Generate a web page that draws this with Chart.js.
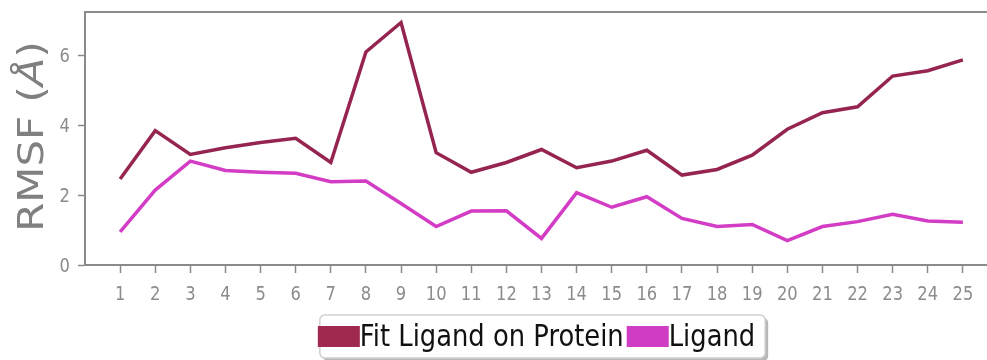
<!DOCTYPE html>
<html>
<head>
<meta charset="utf-8">
<script src="https://cdn.jsdelivr.net/npm/chart.js@4"></script>
<style>
  html, body { margin: 0; padding: 0; background: #ffffff; overflow: hidden; }
  #wrap { width: 1000px; height: 360px; }
</style>
</head>
<body>
<div id="wrap"><canvas id="c" width="1000" height="360"></canvas></div>
<script>
// Residue index along the ligand
const residues = [1,2,3,4,5,6,7,8,9,10,11,12,13,14,15,16,17,18,19,20,21,22,23,24,25];
// RMSF values (Å)
const fitLigandOnProtein = [2.46,3.84,3.16,3.35,3.50,3.62,2.93,6.09,6.93,3.21,2.65,2.93,3.30,2.78,2.97,3.28,2.57,2.73,3.14,3.88,4.35,4.52,5.40,5.55,5.86];
const ligand = [0.95,2.14,2.97,2.70,2.65,2.62,2.38,2.40,1.76,1.10,1.54,1.55,0.76,2.07,1.65,1.95,1.33,1.10,1.16,0.70,1.10,1.24,1.45,1.26,1.22];
// Axis tick labels
const xTicks = [1,2,3,4,5,6,7,8,9,10,11,12,13,14,15,16,17,18,19,20,21,22,23,24,25];
const yTicks = [0,2,4,6];
const seriesNames = ['Fit Ligand on Protein', 'Ligand'];
const seriesColors = ['#962451', '#d33cc5'];
const swatchColors = ['#a0294f', '#d13cc4'];

const AXIS = '#8a8a8a';
const TICK_TEXT = '#8c8c8c';
const SQUEEZE = 0.86;   // narrow text width used throughout the figure

// Tick labels, axis title, top spine and framed legend
const decorations = {
  id: 'decorations',
  afterDraw(chart) {
    const ctx = chart.ctx;
    const area = chart.chartArea;
    const xs = chart.scales.x, ys = chart.scales.y;

    // top spine
    ctx.save();
    ctx.strokeStyle = AXIS;
    ctx.lineWidth = 2;
    ctx.beginPath();
    ctx.moveTo(area.left - 1, area.top);
    ctx.lineTo(area.right, area.top);
    ctx.stroke();
    ctx.restore();

    // tick labels
    ctx.save();
    ctx.fillStyle = TICK_TEXT;
    ctx.font = '19px "DejaVu Sans"';
    ctx.textBaseline = 'alphabetic';
    ctx.textAlign = 'center';
    xs.ticks.forEach(t => {
      const px = xs.getPixelForValue(t.value);
      ctx.save();
      ctx.translate(px, area.bottom + 35);
      ctx.scale(SQUEEZE, 1);
      ctx.fillText(String(t.value), 0, 0);
      ctx.restore();
    });
    ctx.textAlign = 'right';
    yTicks.forEach(v => {
      const py = ys.getPixelForValue(v);
      ctx.save();
      ctx.translate(area.left - 15, py + 6.5);
      ctx.scale(SQUEEZE, 1);
      ctx.fillText(String(v), 0, 0);
      ctx.restore();
    });
    ctx.restore();

    // y-axis title: RMSF (Å) with the Ångström sign in oblique
    ctx.save();
    ctx.fillStyle = '#808080';
    const cy = (area.top + area.bottom) / 2 - 2;
    ctx.translate(43, cy);
    ctx.scale(1, 1 / SQUEEZE);
    ctx.rotate(-Math.PI / 2);
    ctx.textBaseline = 'alphabetic';
    ctx.textAlign = 'left';
    const parts = [
      ['RMSF (', '36px "DejaVu Sans"'],
      ['Å', 'oblique 36px "DejaVu Sans"'],
      [')', '36px "DejaVu Sans"']
    ];
    let total = 0;
    parts.forEach(p => { ctx.font = p[1]; total += ctx.measureText(p[0]).width; });
    let x = -total / 2;
    parts.forEach(p => { ctx.font = p[1]; ctx.fillText(p[0], x, 0); x += ctx.measureText(p[0]).width; });
    ctx.restore();

    // legend
    ctx.save();
    ctx.font = '30px "DejaVu Sans"';
    const sw = 42, sh = 21, gap = 3;
    const widths = chart.data.datasets.map(d => ctx.measureText(d.label).width * SQUEEZE);
    let full = 0;
    widths.forEach((w, i) => { full += sw + w + (i < widths.length - 1 ? gap : 0); });
    const start = (area.left + area.right) / 2 - full / 2 - 5;
    const fx = start + 2, fy = 315, fw = full + 8, fh = 43;
    // shadow
    ctx.fillStyle = 'rgba(0,0,0,0.28)';
    ctx.beginPath();
    ctx.roundRect(fx + 3, fy + 3, fw, fh, 5);
    ctx.fill();
    // frame
    ctx.fillStyle = '#ffffff';
    ctx.strokeStyle = '#cfcfcf';
    ctx.lineWidth = 1.5;
    ctx.beginPath();
    ctx.roundRect(fx, fy, fw, fh, 5);
    ctx.fill();
    ctx.stroke();
    // entries
    let lx = start;
    chart.data.datasets.forEach((d, i) => {
      ctx.fillStyle = swatchColors[i];
      ctx.fillRect(lx, 326, sw, sh);
      lx += sw;
      ctx.save();
      ctx.fillStyle = '#111111';
      ctx.translate(lx, 346);
      ctx.scale(SQUEEZE, 1);
      ctx.textAlign = 'left';
      ctx.textBaseline = 'alphabetic';
      ctx.fillText(d.label, 0, 0);
      ctx.restore();
      lx += widths[i] + gap;
    });
    ctx.restore();
  }
};

new Chart(document.getElementById('c'), {
  type: 'line',
  data: {
    datasets: [
      {
        label: seriesNames[0],
        data: residues.map((r, i) => ({ x: r, y: fitLigandOnProtein[i] })),
        borderColor: seriesColors[0],
        borderWidth: 3.5,
        pointRadius: 0,
        tension: 0,
        fill: false
      },
      {
        label: seriesNames[1],
        data: residues.map((r, i) => ({ x: r, y: ligand[i] })),
        borderColor: seriesColors[1],
        borderWidth: 3.5,
        pointRadius: 0,
        tension: 0,
        fill: false
      }
    ]
  },
  options: {
    responsive: false,
    animation: false,
    layout: { padding: { top: 12, right: 2, left: 0, bottom: 0 } },
    plugins: {
      legend: { display: false },
      tooltip: { enabled: false }
    },
    scales: {
      x: {
        type: 'linear',
        min: 0,
        max: 26,
        afterBuildTicks: s => { s.ticks = xTicks.map(v => ({ value: v })); },
        afterFit: s => { s.height = 95; },
        ticks: { display: false },
        grid: {
          drawOnChartArea: false,
          drawTicks: true,
          tickLength: 8,
          tickColor: AXIS,
          tickWidth: 1.5
        },
        border: { display: true, color: AXIS, width: 2 }
      },
      y: {
        type: 'linear',
        min: 0,
        max: 7.23,
        afterBuildTicks: s => { s.ticks = yTicks.map(v => ({ value: v })); },
        afterFit: s => { s.width = 85; },
        ticks: { display: false },
        grid: {
          drawOnChartArea: false,
          drawTicks: true,
          tickLength: 7,
          tickColor: AXIS,
          tickWidth: 1.5
        },
        border: { display: true, color: AXIS, width: 2 }
      }
    }
  },
  plugins: [decorations]
});
</script>
</body>
</html>
